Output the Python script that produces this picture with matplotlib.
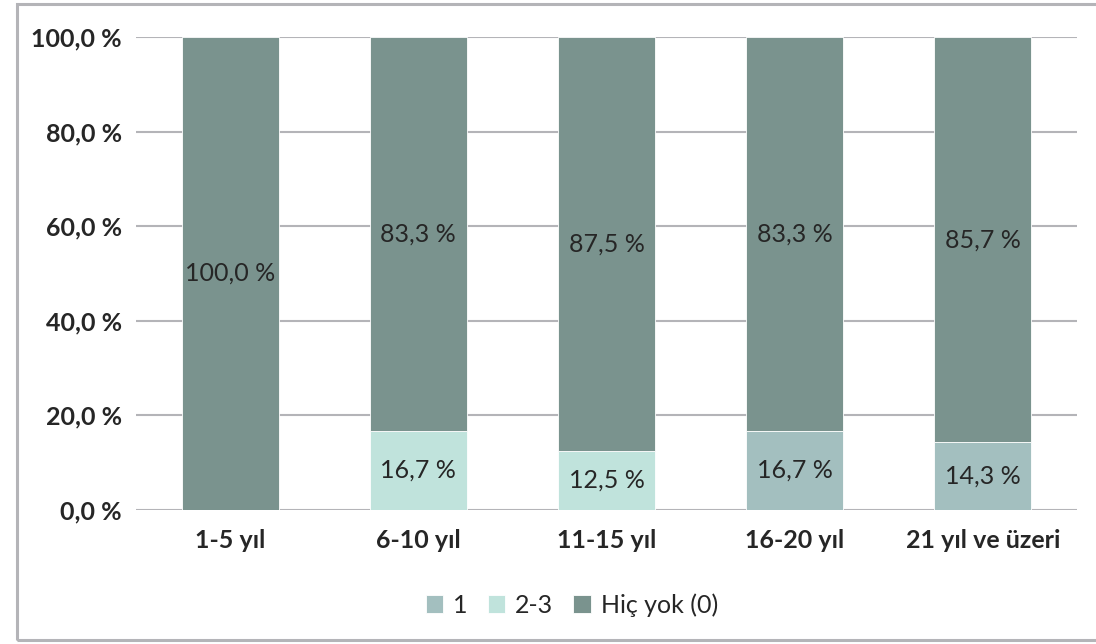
import matplotlib.pyplot as plt
import numpy as np
from matplotlib.patches import Rectangle

plt.rcParams['font.family'] = ['Lato', 'DejaVu Sans']

# 데이터
categories = ["1-5 yıl", "6-10 yıl", "11-15 yıl", "16-20 yıl", "21 yıl ve üzeri"]
series_names = ["1", "2-3", "Hiç yok (0)"]
s_bir = [0.0, 0.0, 0.0, 16.7, 14.3]
s_iki_uc = [0.0, 16.7, 12.5, 0.0, 0.0]
s_hic = [100.0, 83.3, 87.5, 83.3, 85.7]
y_ticks = [0, 20, 40, 60, 80, 100]

colors = ["#a3bfbf", "#c0e3dc", "#7a938e"]

fig = plt.figure(figsize=(10.96, 6.44), dpi=100)
ax = fig.add_axes([136 / 1096, 1 - 510 / 644, 941 / 1096, 473 / 644])

# 바깥 테두리
fig.patches.append(Rectangle((17 / 1096, 4 / 644), 1.2, 636 / 644, transform=fig.transFigure,
                             fill=False, edgecolor="#b4b4b8", linewidth=2.2))

x = np.arange(len(categories))
w = 0.515
bottom = np.zeros(len(categories))
for vals, name, c in zip([s_bir, s_iki_uc, s_hic], series_names, colors):
    vals = np.array(vals)
    bars = ax.bar(x, vals, w, bottom=bottom, color=c, label=name, zorder=3,
                  edgecolor="white", linewidth=0.6)
    for xi, b, v in zip(x, bottom, vals):
        if v > 0:
            ax.text(xi, b + v / 2, f"{v:.1f} %".replace(".", ","), ha="center", va="center",
                    fontsize=18, color="#262626", zorder=4)
    bottom = bottom + vals

ax.set_xlim(-0.5, len(categories) - 0.5)
ax.set_ylim(0, 100)
ax.set_yticks(y_ticks)
ax.set_yticklabels([f"{t:.1f} %".replace(".", ",") for t in y_ticks], fontsize=18,
                   fontweight="bold", color="#262626")
ax.set_xticks(x)
ax.set_xticklabels(categories, fontsize=18, fontweight="bold", color="#262626")
ax.tick_params(length=0)
ax.tick_params(axis="y", pad=10)
ax.tick_params(axis="x", pad=14)
ax.grid(axis="y", color="#b4b4b8", linewidth=1.5, zorder=0)
for s in ax.spines.values():
    s.set_visible(False)

# 범례 (차트 영역 중앙)
fig.legend(*ax.get_legend_handles_labels(), loc="center", bbox_to_anchor=(572 / 1096, 1 - 605 / 644),
           ncol=3, frameon=False, fontsize=18,
           handlelength=0.7, handleheight=0.7, handletextpad=0.4, columnspacing=0.8,
           labelcolor="#262626")

fig.savefig("out.png", dpi=100)
